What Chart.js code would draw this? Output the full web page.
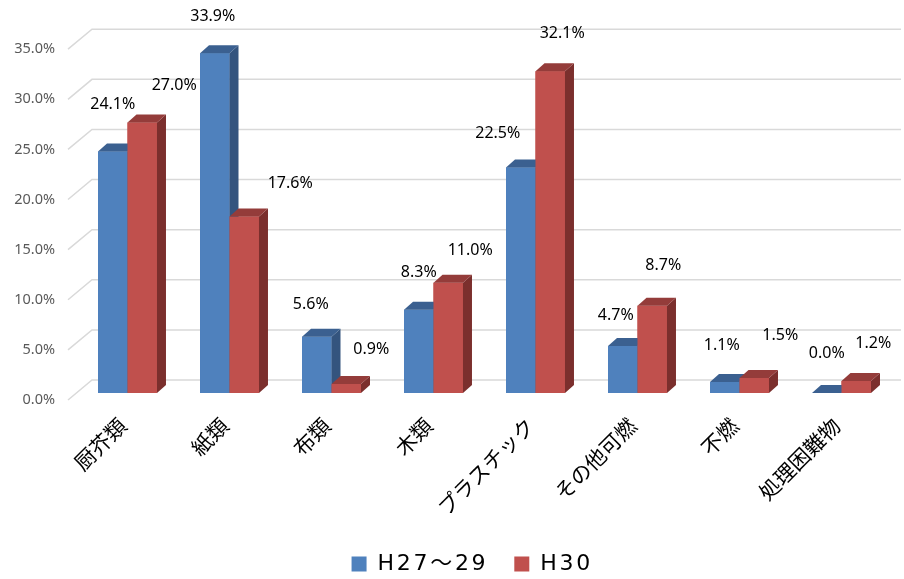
<!DOCTYPE html>
<html>
<head>
<meta charset="utf-8">
<script src="https://cdn.jsdelivr.net/npm/chart.js@4/dist/chart.umd.min.js"></script>
<style>
  html, body { margin: 0; padding: 0; background: #ffffff; }
  #wrap { width: 904px; height: 579px; }
</style>
</head>
<body>
<div id="wrap"><canvas id="c" width="904" height="579"></canvas></div>
<script>
// Waste composition by category (%)
const categories = ['厨芥類', '紙類', '布類', '木類', 'プラスチック', 'その他可燃', '不燃', '処理困難物'];
const seriesNames = ['H27～29', 'H30'];
const valuesH27to29 = [24.1, 33.9, 5.6, 8.3, 22.5, 4.7, 1.1, 0.0];
const valuesH30 = [27.0, 17.6, 0.9, 11.0, 32.1, 8.7, 1.5, 1.2];
const yTickValues = [0, 5, 10, 15, 20, 25, 30, 35];

// Value-label nudges [dx, dy] from the top centre of each bar's front face
const labelNudgeH27to29 = [[0, -47], [-2, -37], [-6, -32], [0, -37], [-23, -34], [-7, -30], [-3, -37], [0, -40]];
const labelNudgeH30 = [[32, -37], [46, -33], [25, -35], [22, -32], [12, -38], [11, -40], [26, -43], [17, -38]];

// Extruded look for the bars
const DEPTH_DX = 9, DEPTH_DY = -8;
const faceColours = [
  { front: '#4F81BD', top: '#3B6090', side: '#34547E' },
  { front: '#C0504D', top: '#943C3A', side: '#7B2F2D' }
];

// Floor-and-wall grid: a short diagonal from the axis to the back wall, then flat
const grid3d = {
  id: 'grid3d',
  beforeDatasetsDraw(chart) {
    const { ctx, chartArea, scales: { y } } = chart;
    ctx.save();
    ctx.strokeStyle = '#D9D9D9';
    ctx.lineWidth = 1.5;
    y.ticks.forEach(t => {
      const py = y.getPixelForValue(t.value);
      ctx.beginPath();
      ctx.moveTo(chartArea.left - 8.5, py + 7);
      ctx.lineTo(chartArea.left + 15.5, py - 13);
      ctx.lineTo(chart.width - 3, py - 13);
      ctx.stroke();
    });
    ctx.restore();
  }
};

function drawFaces(ctx, el, c) {
  const { x, y, base, width } = el.getProps(['x', 'y', 'base', 'width'], true);
  const l = x - width / 2, r = x + width / 2;
  ctx.save();
  ctx.fillStyle = c.side;
  ctx.beginPath();
  ctx.moveTo(r, base);
  ctx.lineTo(r + DEPTH_DX, base + DEPTH_DY);
  ctx.lineTo(r + DEPTH_DX, y + DEPTH_DY);
  ctx.lineTo(r, y);
  ctx.closePath();
  ctx.fill();
  ctx.fillStyle = c.top;
  ctx.beginPath();
  ctx.moveTo(l, y);
  ctx.lineTo(l + DEPTH_DX, y + DEPTH_DY);
  ctx.lineTo(r + DEPTH_DX, y + DEPTH_DY);
  ctx.lineTo(r, y);
  ctx.closePath();
  ctx.fill();
  ctx.restore();
}

// Re-draw each category front-to-back: series 1 then series 2, each with its faces
const bar3d = {
  id: 'bar3d',
  afterDatasetsDraw(chart) {
    const ctx = chart.ctx;
    const metas = chart.data.datasets.map((_, i) => chart.getDatasetMeta(i));
    categories.forEach((_, j) => {
      metas.forEach((meta, i) => {
        const el = meta.data[j];
        el.draw(ctx, chart.chartArea);
        drawFaces(ctx, el, faceColours[i]);
      });
    });
  }
};

// Percentage labels above the bars
const valueLabels = {
  id: 'valueLabels',
  afterDatasetsDraw(chart) {
    const ctx = chart.ctx;
    ctx.save();
    ctx.font = '16px "Noto Sans"';
    ctx.fillStyle = '#000000';
    ctx.textAlign = 'center';
    ctx.textBaseline = 'middle';
    chart.data.datasets.forEach((ds, i) => {
      const nudges = i === 0 ? labelNudgeH27to29 : labelNudgeH30;
      chart.getDatasetMeta(i).data.forEach((el, j) => {
        ctx.fillText(ds.data[j].toFixed(1) + '%', el.x + nudges[j][0], el.y + nudges[j][1]);
      });
    });
    ctx.restore();
  }
};

// Looser letter spacing for the legend text, and a small shift to the right
const LEGEND_SHIFT_X = 26;
const legendSpacing = {
  id: 'legendSpacing',
  afterInit(chart) {
    const legend = chart.legend;
    if (!legend) return;
    const origFit = legend.fit;
    legend.fit = function (...args) {
      const ctx = this.ctx;
      const prev = ctx.letterSpacing;
      ctx.letterSpacing = '2.7px';
      const out = origFit.apply(this, args);
      ctx.letterSpacing = prev;
      return out;
    };
    const origDraw = legend.draw;
    legend.draw = function (...args) {
      const ctx = this.ctx;
      ctx.save();
      ctx.letterSpacing = '2.7px';
      ctx.translate(LEGEND_SHIFT_X, 0);
      const out = origDraw.apply(this, args);
      ctx.restore();
      return out;
    };
  }
};

new Chart(document.getElementById('c'), {
  type: 'bar',
  data: {
    labels: categories,
    datasets: [
      { label: seriesNames[0], data: valuesH27to29, backgroundColor: faceColours[0].front },
      { label: seriesNames[1], data: valuesH30, backgroundColor: faceColours[1].front }
    ]
  },
  options: {
    responsive: false,
    animation: false,
    devicePixelRatio: 1,
    layout: { padding: { top: 42.2, right: 11.5, left: 0, bottom: -6 } },
    datasets: { bar: { categoryPercentage: 0.578, barPercentage: 1 } },
    scales: {
      x: {
        grid: { display: false },
        border: { display: false },
        ticks: {
          minRotation: 45, maxRotation: 45, autoSkip: false,
          padding: 12,
          labelOffset: -5,
          color: '#000000',
          font: { family: '"Noto Sans CJK JP"', size: 21 }
        },
        afterFit(s) { s.height = 134; }
      },
      y: {
        min: 0, max: 35,
        afterBuildTicks(s) { s.ticks = yTickValues.map(v => ({ value: v })); },
        grid: { display: false, drawTicks: false },
        border: { display: false },
        ticks: {
          labelOffset: 7,
          padding: 21.5,
          color: '#595959',
          font: { family: '"Noto Sans"', size: 14.5 },
          callback: v => Number(v).toFixed(1) + '%'
        },
        afterFit(s) { s.width = 76.5; }
      }
    },
    plugins: {
      legend: {
        position: 'bottom',
        labels: {
          boxWidth: 15, boxHeight: 15, padding: 26,
          color: '#000000',
          font: { family: '"DejaVu Sans", "Noto Sans CJK JP"', size: 22 }
        }
      },
      tooltip: { enabled: false }
    }
  },
  plugins: [grid3d, bar3d, valueLabels, legendSpacing]
});
</script>
</body>
</html>
